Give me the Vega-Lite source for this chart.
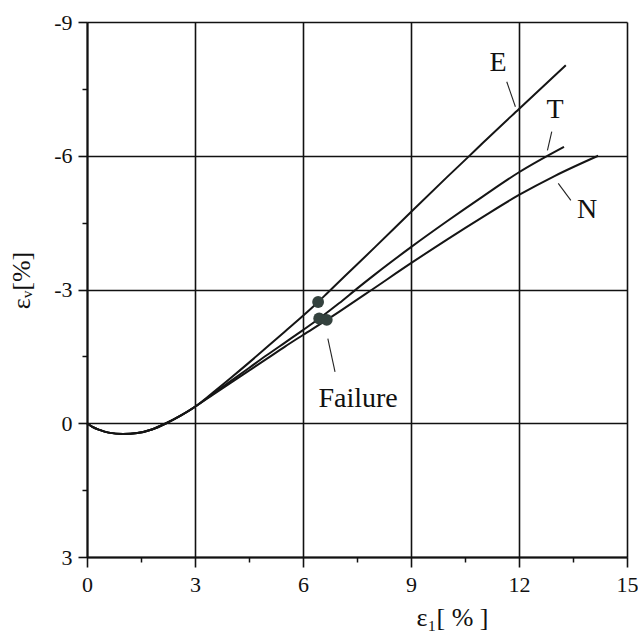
{
  "$schema": "https://vega.github.io/schema/vega-lite/v6.json",
  "width": 540,
  "height": 535,
  "autosize": "none",
  "padding": {"left": 87, "top": 22, "right": 11, "bottom": 79},
  "background": "white",
  "config": {
    "view": {"stroke": null},
    "font": "'Liberation Serif', 'Times New Roman', 'DejaVu Serif', serif"
  },
  "datasets": {
    "curves": [
      {"series": "E", "x": 0, "y": 0}, {"series": "E", "x": 0.15, "y": 0.08}, {"series": "E", "x": 0.35, "y": 0.15},
      {"series": "E", "x": 0.6, "y": 0.21}, {"series": "E", "x": 1.0, "y": 0.24}, {"series": "E", "x": 1.4, "y": 0.22},
      {"series": "E", "x": 1.8, "y": 0.14}, {"series": "E", "x": 2.2, "y": 0.0}, {"series": "E", "x": 2.6, "y": -0.17},
      {"series": "E", "x": 3.0, "y": -0.37}, {"series": "E", "x": 3.5, "y": -0.69}, {"series": "E", "x": 4.0, "y": -1.02},
      {"series": "E", "x": 4.5, "y": -1.36}, {"series": "E", "x": 5.0, "y": -1.71}, {"series": "E", "x": 5.5, "y": -2.06},
      {"series": "E", "x": 6.0, "y": -2.41}, {"series": "E", "x": 6.42, "y": -2.72}, {"series": "E", "x": 6.7, "y": -2.94},
      {"series": "E", "x": 7.5, "y": -3.56}, {"series": "E", "x": 8.0, "y": -3.95}, {"series": "E", "x": 9.0, "y": -4.74},
      {"series": "E", "x": 10.0, "y": -5.52}, {"series": "E", "x": 10.6, "y": -5.98}, {"series": "E", "x": 11.0, "y": -6.29},
      {"series": "E", "x": 12.0, "y": -7.05}, {"series": "E", "x": 13.3, "y": -8.03},

      {"series": "T", "x": 0, "y": 0}, {"series": "T", "x": 0.15, "y": 0.08}, {"series": "T", "x": 0.35, "y": 0.15},
      {"series": "T", "x": 0.6, "y": 0.21}, {"series": "T", "x": 1.0, "y": 0.24}, {"series": "T", "x": 1.4, "y": 0.22},
      {"series": "T", "x": 1.8, "y": 0.14}, {"series": "T", "x": 2.2, "y": 0.0}, {"series": "T", "x": 2.6, "y": -0.17},
      {"series": "T", "x": 3.0, "y": -0.37}, {"series": "T", "x": 3.5, "y": -0.66}, {"series": "T", "x": 4.0, "y": -0.95},
      {"series": "T", "x": 4.5, "y": -1.24}, {"series": "T", "x": 5.0, "y": -1.53}, {"series": "T", "x": 5.5, "y": -1.81},
      {"series": "T", "x": 6.0, "y": -2.09}, {"series": "T", "x": 6.45, "y": -2.35}, {"series": "T", "x": 7.0, "y": -2.69},
      {"series": "T", "x": 7.5, "y": -3.02}, {"series": "T", "x": 8.0, "y": -3.34}, {"series": "T", "x": 9.0, "y": -3.95},
      {"series": "T", "x": 10.0, "y": -4.53}, {"series": "T", "x": 11.0, "y": -5.09}, {"series": "T", "x": 12.0, "y": -5.63},
      {"series": "T", "x": 13.25, "y": -6.2},

      {"series": "N", "x": 0, "y": 0}, {"series": "N", "x": 0.15, "y": 0.08}, {"series": "N", "x": 0.35, "y": 0.15},
      {"series": "N", "x": 0.6, "y": 0.21}, {"series": "N", "x": 1.0, "y": 0.24}, {"series": "N", "x": 1.4, "y": 0.22},
      {"series": "N", "x": 1.8, "y": 0.14}, {"series": "N", "x": 2.2, "y": 0.0}, {"series": "N", "x": 2.6, "y": -0.17},
      {"series": "N", "x": 3.0, "y": -0.37}, {"series": "N", "x": 3.5, "y": -0.64}, {"series": "N", "x": 4.0, "y": -0.91},
      {"series": "N", "x": 4.5, "y": -1.18}, {"series": "N", "x": 5.0, "y": -1.45}, {"series": "N", "x": 5.5, "y": -1.72},
      {"series": "N", "x": 6.0, "y": -1.98}, {"series": "N", "x": 6.66, "y": -2.32}, {"series": "N", "x": 7.0, "y": -2.5},
      {"series": "N", "x": 7.85, "y": -2.96}, {"series": "N", "x": 9.0, "y": -3.59}, {"series": "N", "x": 10.0, "y": -4.12},
      {"series": "N", "x": 11.0, "y": -4.63}, {"series": "N", "x": 12.0, "y": -5.12}, {"series": "N", "x": 13.0, "y": -5.55},
      {"series": "N", "x": 14.2, "y": -6.0}
    ],
    "failure": [
      {"series": "E", "x": 6.42, "y": -2.72},
      {"series": "T", "x": 6.45, "y": -2.35},
      {"series": "N", "x": 6.66, "y": -2.32}
    ],
    "leaders": [
      {"label": "E", "x": 11.66, "y": -7.66, "x2": 11.9, "y2": -7.1},
      {"label": "T", "x": 12.91, "y": -6.54, "x2": 12.79, "y2": -6.12},
      {"label": "N", "x": 13.09, "y": -5.38, "x2": 13.44, "y2": -5.0},
      {"label": "Failure", "x": 6.69, "y": -1.9, "x2": 6.89, "y2": -1.15}
    ],
    "labels": [
      {"label": "E", "x": 11.42, "y": -7.89},
      {"label": "T", "x": 13.0, "y": -6.84},
      {"label": "N", "x": 13.89, "y": -4.6},
      {"label": "Failure", "x": 7.53, "y": -0.375}
    ]
  },
  "resolve": {"axis": {"x": "independent", "y": "independent"}},
  "layer": [
    {
      "data": {"name": "curves"},
      "mark": {"type": "line", "interpolate": "monotone", "color": "#151515", "strokeWidth": 2},
      "encoding": {
        "detail": {"field": "series"},
        "x": {
          "field": "x", "type": "quantitative",
          "scale": {"domain": [0, 15], "nice": false, "zero": false},
          "axis": {
            "orient": "bottom",
            "values": [0, 3, 6, 9, 12, 15],
            "grid": true, "gridColor": "#111", "gridWidth": 1.6, "gridOpacity": 1,
            "domainColor": "#111", "domainWidth": 2,
            "tickColor": "#111", "tickWidth": 1.6, "tickSize": 10,
            "labelFont": "'Liberation Serif', 'Times New Roman', serif", "labelFontSize": 22, "labelColor": "#111", "labelPadding": 7,
            "labelExpr": "'' + datum.value", "labelFlush": false,
            "title": "ε₁[ % ]",
            "titleFont": "'Liberation Serif', 'Times New Roman', 'DejaVu Serif', serif", "titleFontSize": 26, "titleFontWeight": "normal", "titleColor": "#111",
            "titleX": 365, "titleY": 68, "titleAlign": "center", "titleBaseline": "alphabetic"
          }
        },
        "y": {
          "field": "y", "type": "quantitative",
          "scale": {"domain": [-9, 3], "nice": false, "zero": false, "reverse": true},
          "axis": {
            "orient": "left",
            "values": [-9, -6, -3, 0, 3],
            "grid": true, "gridColor": "#111", "gridWidth": 1.6, "gridOpacity": 1,
            "domainColor": "#111", "domainWidth": 2,
            "tickColor": "#111", "tickWidth": 1.6, "tickSize": 9,
            "labelFont": "'Liberation Serif', 'Times New Roman', serif", "labelFontSize": 22, "labelColor": "#111", "labelPadding": 6,
            "labelExpr": "'' + datum.value", "labelFlush": false,
            "title": "εᵥ[%]",
            "titleFont": "'Liberation Serif', 'Times New Roman', 'DejaVu Serif', serif", "titleFontSize": 26, "titleFontWeight": "normal", "titleColor": "#111",
            "titleX": -66, "titleY": 258, "titleAlign": "center", "titleBaseline": "middle", "titleAngle": -90
          }
        }
      }
    },
    {
      "data": {"name": "failure"},
      "mark": {"type": "point", "filled": true, "shape": "circle", "size": 140, "color": "#34423e", "opacity": 1},
      "encoding": {
        "x": {"field": "x", "type": "quantitative", "axis": null},
        "y": {"field": "y", "type": "quantitative", "axis": null}
      }
    },
    {
      "data": {"name": "leaders"},
      "mark": {"type": "rule", "color": "#222", "strokeWidth": 1.1},
      "encoding": {
        "x": {
          "field": "x", "type": "quantitative",
          "axis": {
            "orient": "bottom", "values": [1.5, 4.5, 7.5, 10.5, 13.5],
            "labels": false, "grid": false, "domain": false, "title": null,
            "tickColor": "#111", "tickWidth": 1.5, "tickSize": 5
          }
        },
        "y": {
          "field": "y", "type": "quantitative",
          "axis": {
            "orient": "left", "values": [-7.5, -4.5, -1.5, 1.5],
            "labels": false, "grid": false, "domain": false, "title": null,
            "tickColor": "#111", "tickWidth": 1.5, "tickSize": 5
          }
        },
        "x2": {"field": "x2"},
        "y2": {"field": "y2"}
      }
    },
    {
      "data": {"name": "labels"},
      "mark": {"type": "text", "font": "'Liberation Serif', 'Times New Roman', serif", "fontSize": 28, "color": "#111", "align": "center", "baseline": "alphabetic"},
      "encoding": {
        "x": {"field": "x", "type": "quantitative", "axis": null},
        "y": {"field": "y", "type": "quantitative", "axis": null},
        "text": {"field": "label"}
      }
    }
  ]
}
